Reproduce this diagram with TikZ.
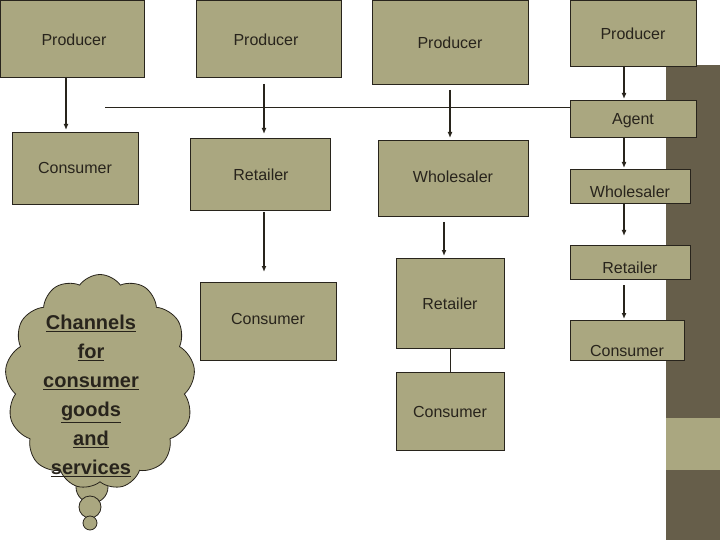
\documentclass[tikz,border=0pt]{standalone}
\usepackage{fontspec}
\setmainfont{Liberation Sans}
\usetikzlibrary{shapes.symbols}
\definecolor{boxfill}{RGB}{170,167,128}
\definecolor{band}{RGB}{102,94,74}
\definecolor{ink}{RGB}{40,36,28}
\begin{document}
\begin{tikzpicture}[x=1pt,y=-1pt,
  bx/.style={draw=ink,fill=boxfill,line width=0.8pt},
  lbl/.style={font=\fontsize{16}{18}\selectfont,text=ink},
  arr/.style={draw=ink,line width=1.2pt,-{Latex[length=6pt,width=5pt]}},
  ln/.style={draw=ink,line width=0.8pt}]
\usetikzlibrary{arrows.meta}
\useasboundingbox (0,0) rectangle (720,540);
\fill[band] (666,65) rectangle (720,540);
\fill[boxfill] (666,418) rectangle (720,470);
% column 1
\draw[bx] (0,0) rectangle (144,77); \node[lbl] (p1) at (74,40) {Producer};
\draw[bx] (12,132) rectangle (138,204); \node[lbl] (c1) at (75,168) {Consumer};
\coordinate (a1s) at (66,77); \coordinate (a1e) at (66,130);
\draw[arr] (a1s) -- (a1e);
% column 2
\draw[bx] (196,0) rectangle (341,77); \node[lbl] (p2) at (266,40) {Producer};
\draw[bx] (190,138) rectangle (330,210); \node[lbl] (r2) at (261,175) {Retailer};
\draw[bx] (200,282) rectangle (336,360); \node[lbl] (c2) at (268,319) {Consumer};
\coordinate (a2s) at (264,84); \coordinate (a2e) at (264,134);
\draw[arr] (a2s) -- (a2e);
\coordinate (b2s) at (264,212); \coordinate (b2e) at (264,272);
\draw[arr] (b2s) -- (b2e);
% column 3
\draw[bx] (372,0) rectangle (528,84); \node[lbl] (p3) at (450,43) {Producer};
\draw[bx] (378,140) rectangle (528,216); \node[lbl] (w3) at (453,177) {Wholesaler};
\draw[bx] (396,258) rectangle (504,348); \node[lbl] (r3) at (450,304) {Retailer};
\draw[bx] (396,372) rectangle (504,450); \node[lbl] (c3) at (450,412) {Consumer};
\coordinate (a3s) at (450,90); \coordinate (a3e) at (450,138);
\draw[arr] (a3s) -- (a3e);
\coordinate (b3s) at (444,222); \coordinate (b3e) at (444,256);
\draw[arr] (b3s) -- (b3e);
\coordinate (c3s) at (450,348); \coordinate (c3e) at (450,372);
\draw[ln] (c3s) -- (c3e);
% column 4
\draw[bx] (570,0) rectangle (696,66); \node[lbl] (p4) at (633,34) {Producer};
\draw[bx] (570,100) rectangle (696,137); \node[lbl] (ag) at (633,121) {Agent};
\draw[bx] (570,169) rectangle (690,203); \node[lbl] (w4) at (630,192) {Wholesaler};
\draw[bx] (570,245) rectangle (690,279); \node[lbl] (r4) at (630,268) {Retailer};
\draw[bx] (570,320) rectangle (684,360); \node[lbl] (c4) at (627,351) {Consumer};
\coordinate (d1) at (624,66); \coordinate (d2) at (624,99);
\draw[arr] (d1) -- (d2);
\coordinate (d3) at (624,137); \coordinate (d4) at (624,168);
\draw[arr] (d3) -- (d4);
\coordinate (d5) at (624,203); \coordinate (d6) at (624,236);
\draw[arr] (d5) -- (d6);
\coordinate (d7) at (624,285); \coordinate (d8) at (624,319);
\draw[arr] (d7) -- (d8);
\coordinate (h1) at (105,107); \coordinate (h2) at (570,107);
\draw[ln] (h1) -- (h2);
% cloud
\draw[bx] (92,487) circle (16);
\draw[bx] (90,507) circle (11);
\draw[bx] (90,523) circle (7);
\node[cloud,cloud puffs=13,cloud puff arc=110,aspect=0.85,draw=ink,fill=boxfill,line width=0.8pt,
  minimum width=190pt,minimum height=215pt,inner sep=0pt] (cl) at (100,382) {};
\node[align=center,text=ink,font=\bfseries\fontsize{20}{29}\selectfont] (ct) at (91,396)
  {\underline{Channels}\\\underline{for}\\\underline{consumer}\\\underline{goods}\\\underline{and}\\\underline{services}};
\end{tikzpicture}
\end{document}
